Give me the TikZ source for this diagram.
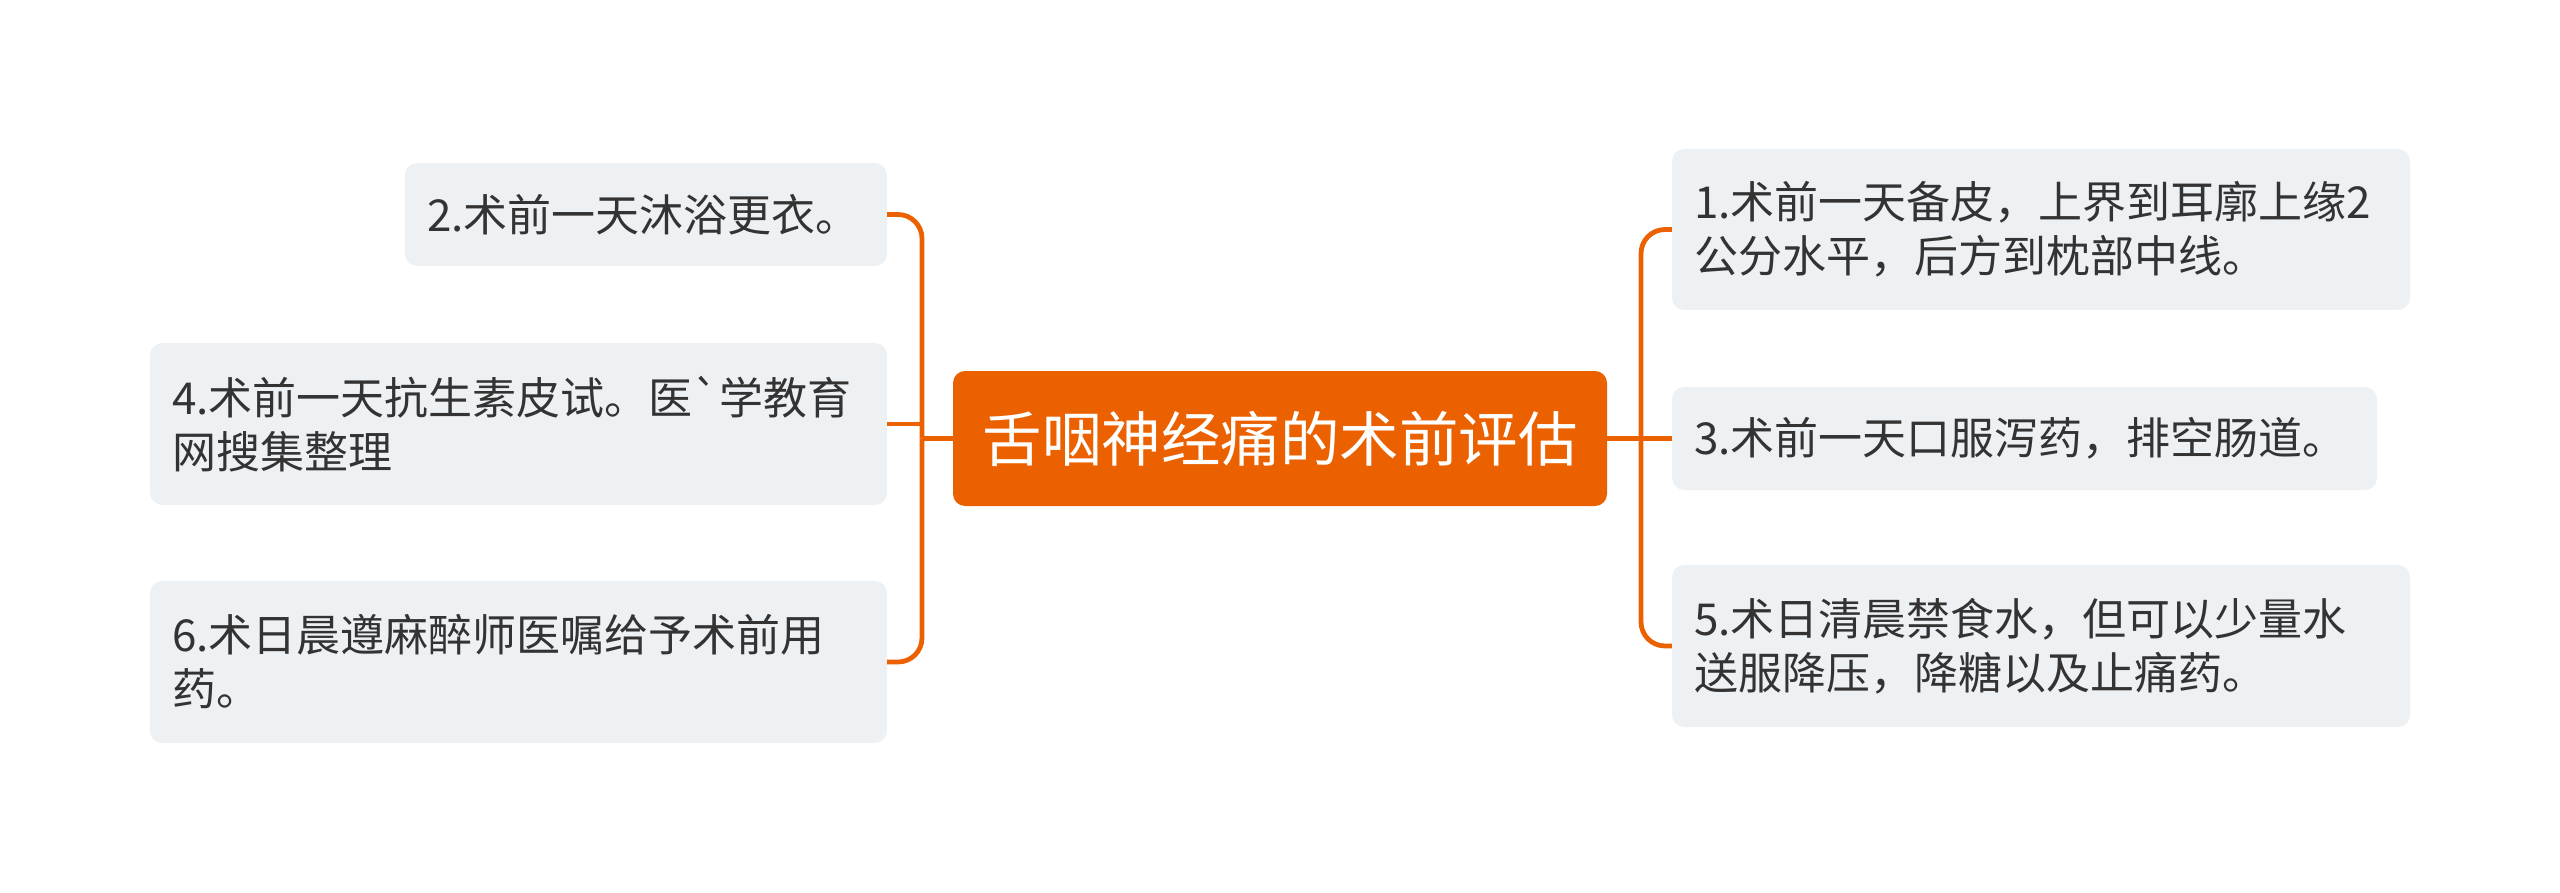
\documentclass[tikz,border=0pt]{standalone}
\usepackage{fontspec}
\setmainfont{Noto Sans CJK SC}[Ligatures=TeXOff]
\definecolor{orng}{HTML}{EB6100}
\definecolor{subfill}{HTML}{EEF1F4}
\definecolor{txt}{HTML}{333333}
\tikzset{
  sub/.style={fill=subfill, rounded corners=12pt, text=txt, font=\fontsize{44}{54}\selectfont, align=left, inner xsep=22pt, inner ysep=0pt, anchor=center},
  root/.style={fill=orng, rounded corners=12pt, text=white, font=\fontsize{59.5}{70}\selectfont, minimum width=654pt, minimum height=135pt, inner sep=0pt},
  conn/.style={draw=orng, line width=4.8pt, rounded corners=24pt},
}
\begin{document}
\begin{tikzpicture}[x=1pt,y=-1pt]
\useasboundingbox (0,0) rectangle (2560,893);
\node[root] (c) at (1280,438.5) {舌咽神经痛的术前评估};
% left
\node[sub, text width=438pt, minimum height=103pt] (n2) at (646,214.5) {2.术前一天沐浴更衣。};
\node[sub, text width=693pt, minimum height=162pt] (n4) at (518.5,424) {4.术前一天抗生素皮试。医`学教育\\网搜集整理};
\node[sub, text width=693pt, minimum height=162pt] (n6) at (518.5,662) {6.术日晨遵麻醉师医嘱给予术前用\\药。};
% right
\node[sub, text width=694pt, minimum height=161pt] (n1) at (2041,229.5) {1.术前一天备皮，上界到耳廓上缘2\\公分水平，后方到枕部中线。};
\node[sub, text width=661pt, minimum height=103pt] (n3) at (2024.5,438.5) {3.术前一天口服泻药，排空肠道。};
\node[sub, text width=694pt, minimum height=162pt] (n5) at (2041,646) {5.术日清晨禁食水，但可以少量水\\送服降压，降糖以及止痛药。};
% junctions
\coordinate (lj) at (922,438.5);
\coordinate (rj) at (1641,438.5);
\draw[conn] (c.west) -- (lj);
\draw[conn] (lj) |- (n2.east);
\draw[conn] (lj) |- (n6.east);
\draw[conn] (lj |- n4.east) -- (n4.east);
\draw[conn] (c.east) -- (rj);
\draw[conn] (rj) |- (n1.west);
\draw[conn] (rj) |- (n5.west);
\draw[conn] (rj) -- (n3.west);
\end{tikzpicture}
\end{document}
